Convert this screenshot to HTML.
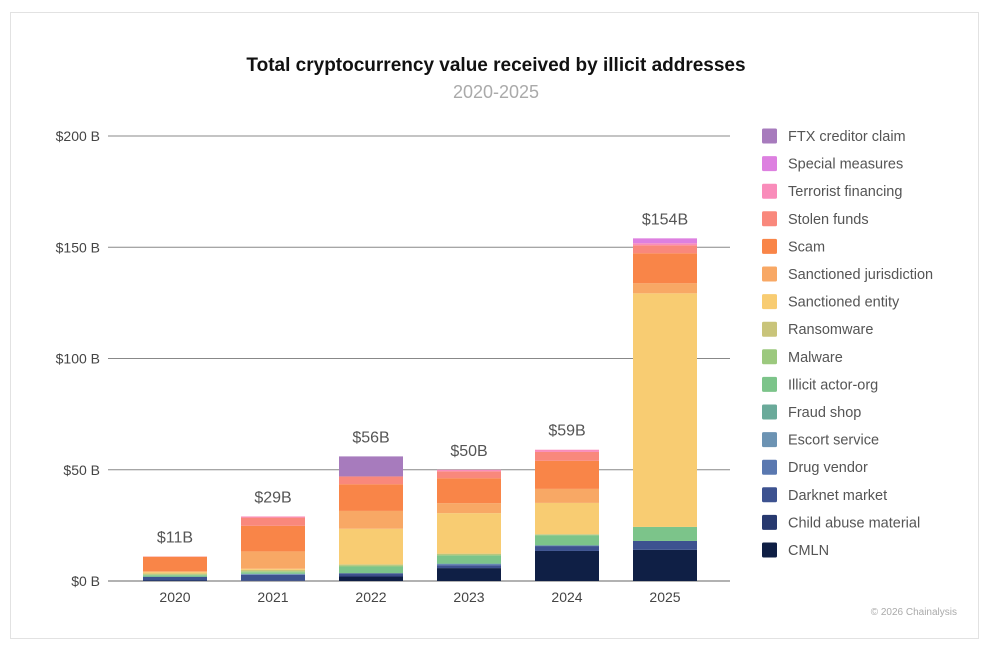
<!DOCTYPE html>
<html><head><meta charset="utf-8"><style>
body{margin:0;background:#fff;width:991px;height:650px;overflow:hidden;font-family:"Liberation Sans",sans-serif}
#card{position:absolute;left:10px;top:12px;width:969px;height:627px;border:1px solid #e2e2e2;box-sizing:border-box}
</style></head><body>
<div id="card"></div>
<svg id="chart" width="991" height="650" style="position:absolute;left:0;top:0">
<text x="496" y="71" text-anchor="middle" font-size="19" font-weight="bold" fill="#111">Total cryptocurrency value received by illicit addresses</text>
<text x="496" y="98" text-anchor="middle" font-size="18" fill="#aaa">2020-2025</text>
<text x="957" y="615" text-anchor="end" font-size="10" fill="#aaa">© 2026 Chainalysis</text>
<g id="grid"></g><g id="bars"></g><g id="legend"></g>
</svg>
<script>
const years=["2020","2021","2022","2023","2024","2025"];
const totalsLabels=["$11B","$29B","$56B","$50B","$59B","$154B"];
const yTicks=[0,50,100,150,200];
const seriesNames=["CMLN","Child abuse material","Darknet market","Drug vendor","Escort service","Fraud shop","Illicit actor-org","Malware","Ransomware","Sanctioned entity","Sanctioned jurisdiction","Scam","Stolen funds","Terrorist financing","Special measures","FTX creditor claim"];
const seriesColors=["#0f1f45","#27396f","#3d5290","#5a78b0","#6c93b3","#6aaa9a","#7cc48a","#9cc97e","#c9c47a","#f8cc72","#f8a865","#f98548","#f9887c","#f98cba","#dd80e0","#a77bbd"];
const cmln=[0.2,0,1.8,5.8,13.5,14];
const childAbuse=[0,0.3,0.7,0,0,0];
const darknet=[1.6,2.5,1.0,1.3,2.2,4];
const drugVendor=[0,0.3,0,0.5,0.3,0];
const escort=[0,0,0,0,0,0];
const fraudShop=[0.2,0.2,0,0.3,0,0];
const illicitOrg=[0.6,0.6,3,3.5,4.5,6.3];
const malware=[0.4,0.5,0.5,0.5,0.3,0];
const ransomware=[0.4,0.6,0.5,0.4,0.3,0];
const sanctionedEntity=[0.6,0.5,16,18.2,14,105];
const sanctionedJur=[0.4,7.8,8,4.5,6.3,4.5];
const scam=[6.4,11.5,12,11.2,12.6,13.5];
const stolen=[0.2,3.7,3.5,3.1,4,3.6];
const terrorist=[0,0.5,0,0.7,1,0.9];
const specialMeasures=[0,0,0,0,0,2.2];
const ftx=[0,0,9,0,0,0];
const seriesValues=[cmln,childAbuse,darknet,drugVendor,escort,fraudShop,illicitOrg,malware,ransomware,sanctionedEntity,sanctionedJur,scam,stolen,terrorist,specialMeasures,ftx];

const NS="http://www.w3.org/2000/svg";
const y0=581,y1=136,yMax=200;
const yScale=v=>y0-(v/yMax)*(y0-y1);
const xCenter=i=>175+i*98;
const barW=64;
function mk(t,a,p){const e=document.createElementNS(NS,t);for(const k in a)e.setAttribute(k,a[k]);p.appendChild(e);return e;}
const grid=document.getElementById('grid');
yTicks.forEach(t=>{
  const l=mk('line',{x1:108,x2:730,y1:yScale(t),y2:yScale(t),stroke:t===0?'#666':'#888','stroke-width':1},grid);
  
  
  const tx=mk('text',{x:100,y:yScale(t)+5,'text-anchor':'end','font-size':14,fill:'#444'},grid);
  tx.textContent='$'+t+' B';
  
  
});
const bars=document.getElementById('bars');
years.forEach((yr,i)=>{
  let cum=0;
  seriesValues.forEach((s,j)=>{
    const v=s[i]; if(v<=0)return;
    const r=mk('rect',{x:xCenter(i)-barW/2,y:yScale(cum+v),width:barW,height:yScale(cum)-yScale(cum+v),fill:seriesColors[j]},bars);
    
    
    cum+=v;
  });
  const lb=mk('text',{x:xCenter(i),y:yScale(cum)-14,'text-anchor':'middle','font-size':16,fill:'#555'},bars);
  lb.textContent=totalsLabels[i];
  
  
  const xl=mk('text',{x:xCenter(i),y:602,'text-anchor':'middle','font-size':14,fill:'#444'},bars);
  xl.textContent=yr;
  
  
});
const lg=document.getElementById('legend');
for(let k=0;k<seriesNames.length;k++){
  const j=seriesNames.length-1-k;
  const yy=136+k*27.6;
  const sq=mk('rect',{x:762,y:yy-7.5,width:15,height:15,rx:1.5,fill:seriesColors[j]},lg);
  
  
  const t=mk('text',{x:788,y:yy+5,'font-size':14.5,fill:'#555'},lg);
  t.textContent=seriesNames[j];
  
  
}
</script>
</body></html>
